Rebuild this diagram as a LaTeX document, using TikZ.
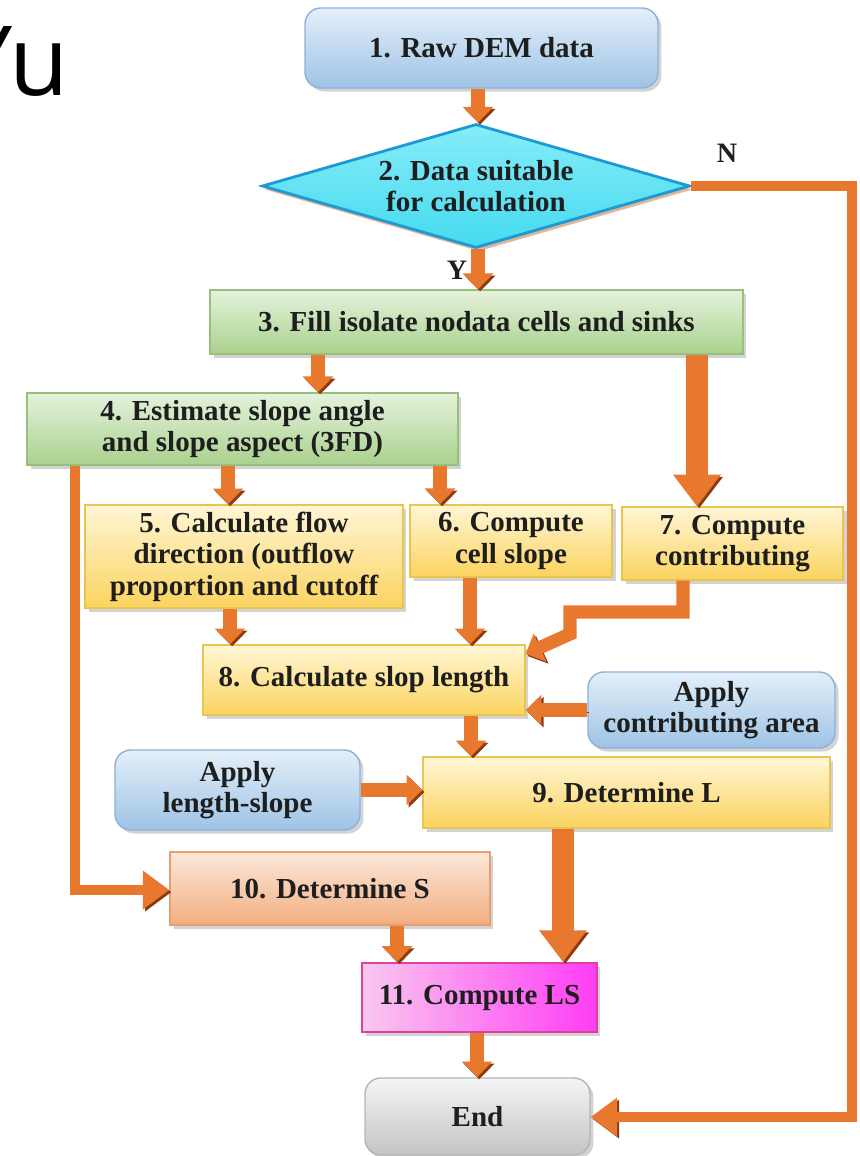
\documentclass[tikz,border=0pt]{standalone}
\usepackage{fontspec}
\setmainfont{Liberation Serif}
\newfontfamily\yufont{Open Sans}
\usepackage{tikz}
\usetikzlibrary{arrows.meta}
\usetikzlibrary{shapes.geometric}
\usetikzlibrary{shadows}

\definecolor{txt}{HTML}{1E1E1E}
\definecolor{arrowor}{HTML}{E8782E}
\definecolor{arrowsh}{HTML}{8C3B10}
\definecolor{bluea}{HTML}{E4EFF9}
\definecolor{blueb}{HTML}{9EC3E6}
\definecolor{blued}{HTML}{8EB0D6}
\definecolor{cyana}{HTML}{86ECF8}
\definecolor{cyanb}{HTML}{45DAEF}
\definecolor{cyand}{HTML}{1C9AD6}
\definecolor{grna}{HTML}{E5F2DC}
\definecolor{grnb}{HTML}{A9D18E}
\definecolor{grnd}{HTML}{98C07C}
\definecolor{yela}{HTML}{FFF6D5}
\definecolor{yelb}{HTML}{FBD35F}
\definecolor{yeld}{HTML}{E8C550}
\definecolor{sala}{HTML}{FCE8DA}
\definecolor{salb}{HTML}{F2AE80}
\definecolor{sald}{HTML}{E79E70}
\definecolor{pinka}{HTML}{F9C8EE}
\definecolor{pinkb}{HTML}{FF3DF5}
\definecolor{pinkd}{HTML}{E0409A}
\definecolor{greya}{HTML}{F5F5F5}
\definecolor{greyb}{HTML}{C4C4C4}
\definecolor{greyd}{HTML}{B5B5B5}

\tikzset{
        box/.style={rectangle, inner sep=2pt, align=center, text=txt, line width=0.8pt,
                font=\bfseries\fontsize{16.5}{18}\selectfont,
                drop shadow={shadow xshift=2pt, shadow yshift=-2pt, opacity=0.35}},
        bluebox/.style={box, rounded corners=9pt, draw=blued, top color=bluea, bottom color=blueb},
        greenbox/.style={box, draw=grnd, top color=grna, bottom color=grnb},
        yellowbox/.style={box, draw=yeld, top color=yela, bottom color=yelb},
        salmonbox/.style={box, draw=sald, top color=sala, bottom color=salb},
        pinkbox/.style={box, draw=pinkd, line width=1.2pt, left color=pinka, right color=pinkb},
        greybox/.style={box, rounded corners=9pt, draw=greyd, top color=greya, bottom color=greyb},
        decision/.style={box, diamond, aspect=3.4, inner sep=0pt, draw=cyand, line width=1.6pt,
                top color=cyana, bottom color=cyanb,
                drop shadow={shadow xshift=1pt, shadow yshift=-2pt, opacity=0.6, fill=arrowor!70}},
        lbl/.style={font=\bfseries\fontsize{16}{18}\selectfont, text=txt},
        flow/.style={draw=arrowor, line width=7.5pt, -{Triangle[width=17pt,length=9pt]},
                preaction={draw=arrowsh, transform canvas={shift={(1.2pt,-1.2pt)}}}},
        bigflow/.style={flow, line width=12pt, -{Triangle[width=26pt,length=18pt]}},
        loopflow/.style={flow, line width=6pt, -{Triangle[width=21pt,length=15pt]}},
}

\begin{document}
\begin{tikzpicture}[x=0.02cm, y=-0.02cm]
        \useasboundingbox (0,0) rectangle (859,1156);

        \node[font=\yufont\fontsize{55}{55}\selectfont, anchor=base east, inner sep=0pt] (yu) at (69,95) {Yu};

        \node[bluebox, minimum width=7.06cm, minimum height=1.6cm] (raw) at (481.5,48) {1. Raw DEM data};
        \node[decision, minimum width=8.56cm, minimum height=2.48cm] (dec) at (476,186) {2. Data suitable\\for calculation};
        \node[greenbox, minimum width=10.66cm, minimum height=1.28cm] (fill3) at (476.5,322) {3. Fill isolate nodata cells and sinks};
        \node[greenbox, minimum width=8.62cm, minimum height=1.44cm] (est4) at (242.5,429) {4. Estimate slope angle\\and slope aspect (3FD)};
        \node[yellowbox, minimum width=6.36cm, minimum height=2.06cm] (flow5) at (244,556.5) {5. Calculate flow\\direction (outflow\\proportion and cutoff};
        \node[yellowbox, minimum width=4.04cm, minimum height=1.44cm] (cell6) at (511,541) {6. Compute\\cell slope};
        \node[yellowbox, minimum width=4.42cm, minimum height=1.46cm] (contr7) at (732.5,543.5) {7. Compute\\contributing};
        \node[yellowbox, minimum width=6.44cm, minimum height=1.4cm] (slop8) at (364,680) {8. Calculate slop length};
        \node[bluebox, minimum width=4.94cm, minimum height=1.52cm] (applyca) at (711.5,710) {Apply\\contributing area};
        \node[yellowbox, minimum width=8.14cm, minimum height=1.42cm] (detl9) at (626.5,792.5) {9. Determine L};
        \node[bluebox, minimum width=4.9cm, minimum height=1.6cm] (applyls) at (237.5,790) {Apply\\length-slope};
        \node[salmonbox, minimum width=6.4cm, minimum height=1.46cm] (dets10) at (330,888.5) {10. Determine S};
        \node[pinkbox, minimum width=4.7cm, minimum height=1.38cm] (comp11) at (479.5,997.5) {11. Compute LS};
        \node[greybox, minimum width=4.5cm, minimum height=1.54cm] (endn) at (477.5,1116.5) {End};

        \draw[flow] (raw.south -| 478,0) -- (dec.north -| 478,0);
        \draw[flow] (dec.south -| 478,0) -- (fill3.north -| 478,0);
        \draw[flow] (fill3.south -| 318,0) -- (est4.north -| 318,0);
        \draw[bigflow] (fill3.south -| 697,0) -- (contr7.north -| 697,0);
        \draw[flow] (est4.south -| 228,0) -- (flow5.north -| 228,0);
        \draw[flow] (est4.south -| 440,0) -- (cell6.north -| 440,0);
        \draw[flow] (flow5.south -| 230,0) -- (slop8.north -| 230,0);
        \draw[flow] (cell6.south -| 470,0) -- (slop8.north -| 470,0);
        \draw[flow] (contr7.south -| 683,0) -- (683,612) -- (570,612) -- (570,634) -- (slop8.east |- 0,654);
        \draw[flow] (applyca.west) -- (slop8.east |- applyca.west);
        \draw[flow] (slop8.south -| 471,0) -- (detl9.north -| 471,0);
        \draw[flow] (applyls.east) -- (detl9.west |- applyls.east);
        \draw[bigflow] (detl9.south -| 563,0) -- (comp11.north -| 563,0);
        \draw[flow] (dets10.south -| 397,0) -- (comp11.north -| 397,0);
        \draw[flow] (comp11.south -| 477,0) -- (endn.north -| 477,0);
        \draw[loopflow] (est4.south -| 75,0) -- (75,890) -- (dets10.west |- 0,890);
        \draw[loopflow] (dec.east) -- (dec.east -| 852,0) -- (852,1117) -- (endn.east |- 0,1117);

        \node[lbl] (lbly) at (457,270) {Y};
        \node[lbl] (lbln) at (727,153) {N};
\end{tikzpicture}
\end{document}
